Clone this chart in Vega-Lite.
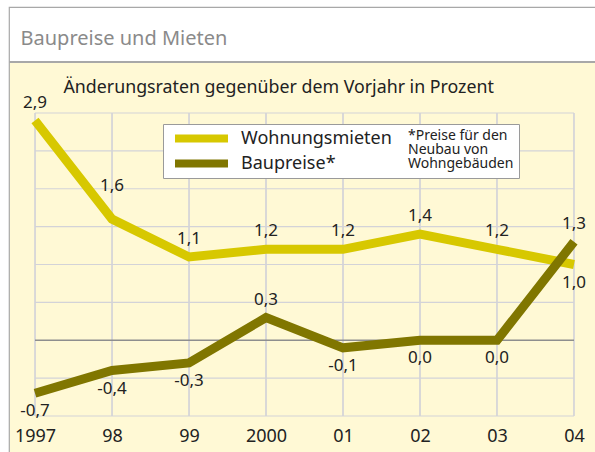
{
  "$schema": "https://vega.github.io/schema/vega-lite/v6.json",
  "width": 587,
  "height": 446,
  "autosize": "none",
  "padding": {"left": 9, "top": 7, "right": 0, "bottom": 0},
  "background": "white",
  "datasets": {
    "rates": [
      {"year": 1997, "series": "Wohnungsmieten", "value": 2.9},
      {"year": 1998, "series": "Wohnungsmieten", "value": 1.6},
      {"year": 1999, "series": "Wohnungsmieten", "value": 1.1},
      {"year": 2000, "series": "Wohnungsmieten", "value": 1.2},
      {"year": 2001, "series": "Wohnungsmieten", "value": 1.2},
      {"year": 2002, "series": "Wohnungsmieten", "value": 1.4},
      {"year": 2003, "series": "Wohnungsmieten", "value": 1.2},
      {"year": 2004, "series": "Wohnungsmieten", "value": 1.0},
      {"year": 1997, "series": "Baupreise", "value": -0.7},
      {"year": 1998, "series": "Baupreise", "value": -0.4},
      {"year": 1999, "series": "Baupreise", "value": -0.3},
      {"year": 2000, "series": "Baupreise", "value": 0.3},
      {"year": 2001, "series": "Baupreise", "value": -0.1},
      {"year": 2002, "series": "Baupreise", "value": 0.0},
      {"year": 2003, "series": "Baupreise", "value": 0.0},
      {"year": 2004, "series": "Baupreise", "value": 1.3}
    ],
    "grid": [
      {"v": -1}, {"v": -0.5}, {"v": 0}, {"v": 0.5}, {"v": 1},
      {"v": 1.5}, {"v": 2}, {"v": 2.5}, {"v": 3}
    ]
  },
  "data": {"name": "rates"},
  "layer": [
    {
      "mark": {"type": "rule", "stroke": "#d3d3d8", "strokeWidth": 1.2},
      "encoding": {
        "x": {"field": "year", "type": "quantitative", "scale": {"domain": [1996.6623, 2004.2857], "nice": false, "zero": false}},
        "y": {"datum": -1, "type": "quantitative", "scale": {"domain": [-1.4884, 4.3993], "nice": false, "zero": false}},
        "y2": {"datum": 3}
      }
    },
    {
      "data": {"name": "grid"},
      "mark": {"type": "rule"},
      "encoding": {
        "y": {"field": "v", "type": "quantitative"},
        "x": {"datum": 1997, "type": "quantitative"},
        "x2": {"datum": 2004},
        "stroke": {"condition": {"test": "datum.v === 0", "value": "#8e8e8e"}, "value": "#d3d3d8"},
        "strokeWidth": {"condition": {"test": "datum.v === 0", "value": 1.6}, "value": 1.2}
      }
    },
    {
      "transform": [{"filter": "datum.series === 'Wohnungsmieten'"}],
      "mark": {"type": "line", "strokeWidth": 9, "strokeCap": "butt", "strokeJoin": "miter"},
      "encoding": {
        "x": {
          "field": "year", "type": "quantitative",
          "axis": {
            "orient": "bottom", "offset": -37,
            "values": [1997, 1998, 1999, 2000, 2001, 2002, 2003, 2004],
            "labelExpr": "(datum.value == 1997 || datum.value == 2000) ? ('' + datum.value) : slice('' + datum.value, 2)",
            "domain": false, "ticks": false, "grid": false,
            "labelFontSize": 18, "labelColor": "#222222", "labelPadding": 11, "labelFont": "Noto Sans",
            "title": "Baupreise und Mieten",
            "titleX": 11, "titleY": -372, "titleAngle": 0, "titleAlign": "left", "titleBaseline": "alphabetic",
            "titleFontSize": 20, "titleFontWeight": "normal", "titleColor": "#8a8a8a", "titleFont": "Noto Sans"
          }
        },
        "y": {
          "field": "value", "type": "quantitative",
          "axis": {
            "orient": "left", "domain": false, "ticks": false, "labels": false, "grid": false,
            "title": "Änderungsraten gegenüber dem Vorjahr in Prozent",
            "titleAngle": 0, "titleX": 54, "titleY": 85, "titleAlign": "left", "titleBaseline": "alphabetic",
            "titleFontSize": 17.8, "titleFontWeight": "normal", "titleColor": "#222222", "titleFont": "Noto Sans"
          }
        },
        "color": {
          "field": "series", "type": "nominal",
          "scale": {"domain": ["Wohnungsmieten", "Baupreise"], "range": ["#d7c800", "#807600"]},
          "legend": {
            "orient": "none", "legendX": 154, "legendY": 117,
            "title": ["*Preise für den", "Neubau von", "Wohngebäuden"],
            "titleOrient": "right", "titleAnchor": "start", "titleAlign": "left",
            "titleFontSize": 14, "titleFontWeight": "normal", "titleColor": "#222222", "titleFont": "Noto Sans",
            "titleLineHeight": 14, "titlePadding": 16,
            "symbolType": "stroke", "symbolSize": 2809, "symbolStrokeWidth": 8, "symbolOffset": 3,
            "clipHeight": 19,
            "labelFontSize": 18, "labelColor": "#222222", "labelFont": "Noto Sans", "labelOffset": 9,
            "labelExpr": "datum.label == 'Baupreise' ? 'Baupreise*' : datum.label",
            "fillColor": "white", "strokeColor": "#9a9a9a", "padding": 5, "rowPadding": 6
          }
        }
      }
    },
    {
      "transform": [{"filter": "datum.series === 'Baupreise'"}],
      "mark": {"type": "line", "strokeWidth": 9, "strokeCap": "butt", "strokeJoin": "miter"},
      "encoding": {
        "x": {"field": "year", "type": "quantitative"},
        "y": {"field": "value", "type": "quantitative"},
        "color": {"field": "series", "type": "nominal"}
      }
    },
    {
      "transform": [{"filter": "(datum.series === 'Wohnungsmieten' && datum.year != 1998 && datum.year != 2004) || (datum.series === 'Baupreise' && (datum.year == 2000 || datum.year == 2004))"}],
      "mark": {"type": "text", "dy": -18, "fontSize": 17, "font": "Noto Sans", "color": "#222222", "baseline": "middle"},
      "encoding": {
        "x": {"field": "year", "type": "quantitative"},
        "y": {"field": "value", "type": "quantitative"},
        "text": {"field": "value", "type": "quantitative", "format": ".1f"}
      }
    },
    {
      "transform": [{"filter": "datum.series === 'Wohnungsmieten' && datum.year == 1998"}],
      "mark": {"type": "text", "dy": -33, "fontSize": 17, "font": "Noto Sans", "color": "#222222", "baseline": "middle"},
      "encoding": {
        "x": {"field": "year", "type": "quantitative"},
        "y": {"field": "value", "type": "quantitative"},
        "text": {"field": "value", "type": "quantitative", "format": ".1f"}
      }
    },
    {
      "transform": [{"filter": "(datum.series === 'Baupreise' && datum.year != 2000 && datum.year != 2004) || (datum.series === 'Wohnungsmieten' && datum.year == 2004)"}],
      "mark": {"type": "text", "dy": 18, "fontSize": 17, "font": "Noto Sans", "color": "#222222", "baseline": "middle"},
      "encoding": {
        "x": {"field": "year", "type": "quantitative"},
        "y": {"field": "value", "type": "quantitative"},
        "text": {"field": "value", "type": "quantitative", "format": ".1f"}
      }
    }
  ],
  "config": {
    "locale": {"number": {"decimal": ",", "thousands": ".", "grouping": [3], "currency": ["", " €"], "minus": "-"}},
    "font": "Noto Sans",
    "view": {
      "stroke": "#a8a8a8",
      "strokeWidth": 1.2,
      "fill": {
        "gradient": "linear", "x1": 0, "y1": 0, "x2": 0, "y2": 1,
        "stops": [
          {"offset": 0, "color": "#ffffff"},
          {"offset": 0.1205, "color": "#ffffff"},
          {"offset": 0.1205, "color": "#a8a8a8"},
          {"offset": 0.1238, "color": "#a8a8a8"},
          {"offset": 0.1238, "color": "#fff9d5"},
          {"offset": 1, "color": "#fff9d5"}
        ]
      }
    }
  }
}
